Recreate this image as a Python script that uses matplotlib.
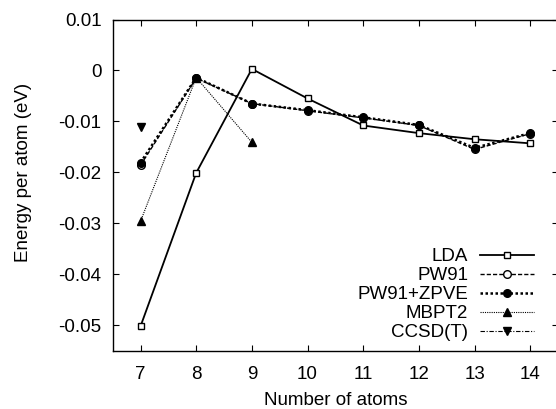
import matplotlib
matplotlib.use("Agg")
import matplotlib.pyplot as plt

plt.rcParams["font.family"] = ["Liberation Sans", "DejaVu Sans"]
plt.rcParams["font.size"] = 13.5

atoms = [7, 8, 9, 10, 11, 12, 13, 14]
lda = [-0.0502, -0.0201, 0.0003, -0.0055, -0.0108, -0.0123, -0.0135, -0.0143]
pw91 = [-0.0186, -0.0015, -0.0065, -0.0079, -0.0093, -0.0108, -0.0155, -0.0124]
pw91_zpve = [-0.0181, -0.0014, -0.0065, -0.0078, -0.0092, -0.0107, -0.0152, -0.0123]
mbpt2_atoms = [7, 8, 9]
mbpt2 = [-0.0296, -0.0014, -0.0141]
ccsdt_atoms = [7]
ccsdt = [-0.0111]

fig = plt.figure(figsize=(5.56, 4.09), dpi=100)
ax = fig.add_axes([0.2027, 0.1425, 0.801, 0.8098])

ax.plot(atoms, lda, "k-", lw=1.3, marker="s", ms=5, mfc="white", mew=1.0, label="LDA")
ax.plot(atoms, pw91, "k", ls=(0, (3, 1.5)), lw=1.0, marker="o", ms=5.5, mfc="white",
        mew=1.0, label="PW91")
ax.plot(atoms, pw91_zpve, "k", ls=(0, (1, 1)), lw=1.8, marker="o", ms=5.5,
        label="PW91+ZPVE")
ax.plot(mbpt2_atoms, mbpt2, "k", ls=(0, (1, 1)), lw=0.8, marker="^", ms=5.5,
        label="MBPT2")
ax.plot(ccsdt_atoms, ccsdt, "k", ls=(0, (4, 1.5, 1, 1.5)), lw=0.8, marker="v", ms=5.5,
        label="CCSD(T)")

ax.set_xlim(6.5, 14.5)
ax.set_ylim(-0.055, 0.01)
ax.set_xticks(atoms)
ax.set_yticks([0.01, 0, -0.01, -0.02, -0.03, -0.04, -0.05])
ax.set_yticklabels(["0.01", "0", "-0.01", "-0.02", "-0.03", "-0.04", "-0.05"])
ax.tick_params(direction="in", top=True, right=True, length=4, width=0.8)
ax.tick_params(axis="y", length=4.5, pad=8)
ax.tick_params(axis="x", pad=11)
for s in ax.spines.values():
    s.set_linewidth(1.0)

ax.set_xlabel("Number of atoms", labelpad=6.5)
ax.set_ylabel("Energy per atom (eV)")
ax.yaxis.set_label_coords(-0.181, 0.537)

leg = ax.legend(loc="lower right", bbox_to_anchor=(0.946, 0.029), frameon=False,
                markerfirst=False, handlelength=2.88, handletextpad=0.64,
                labelspacing=0.1, borderaxespad=0, borderpad=0)

fig.savefig("out.png", dpi=100)
